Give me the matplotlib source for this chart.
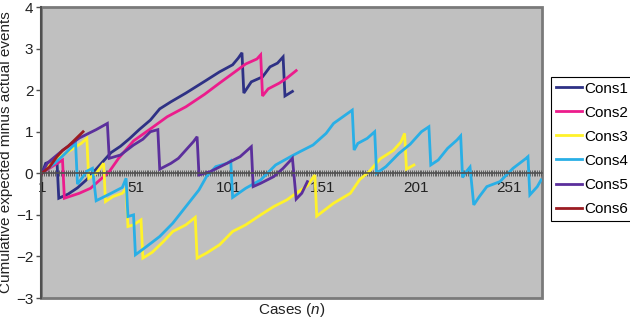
import matplotlib
matplotlib.use("Agg")
import matplotlib.pyplot as plt

plt.rcParams["font.family"] = ["Liberation Sans", "DejaVu Sans"]
plt.rcParams["mathtext.fontset"] = "custom"
plt.rcParams["mathtext.rm"] = "Liberation Sans"
plt.rcParams["mathtext.it"] = "Liberation Sans:italic"

# cumulative expected minus actual events at the turning points
cons1_case = [1, 3, 9, 10, 15, 20, 25, 32, 38, 43, 48, 53, 59, 64, 70, 78, 89, 96, 103, 106, 108, 109,
              113, 119, 123, 127, 130, 131, 135]
cons1_val = [0, 0.24, 0.33, -0.6, -0.5, -0.35, -0.15, 0.2, 0.5, 0.65, 0.84, 1.05, 1.28, 1.55, 1.72, 1.93,
             2.24, 2.44, 2.61, 2.77, 2.9, 1.93, 2.2, 2.32, 2.56, 2.65, 2.8, 1.86, 1.97]

cons2_case = [1, 6, 12, 13, 21, 27, 32, 37, 42, 50, 60, 68, 78, 88, 96, 103, 110, 116, 118, 119,
              122, 128, 132, 137]
cons2_val = [0, 0.15, 0.32, -0.6, -0.48, -0.36, -0.16, 0.04, 0.36, 0.78, 1.1, 1.36, 1.6, 1.9, 2.17,
             2.4, 2.63, 2.75, 2.85, 1.86, 2.03, 2.17, 2.29, 2.47]

cons3_case = [1, 8, 15, 22, 25, 26, 30, 34, 35, 39, 44, 46, 47, 50, 54, 55, 60, 66, 71, 78, 83, 84,
              89, 96, 103, 110, 118, 125, 132, 137, 143, 147, 148, 157, 166, 171, 176, 182, 189, 193,
              195, 196, 200]
cons3_val = [0, 0.32, 0.52, 0.72, 0.84, -0.12, 0.0, 0.24, -0.68, -0.56, -0.48, -0.36, -1.28, -1.24,
             -1.12, -2.04, -1.9, -1.64, -1.4, -1.24, -1.06, -2.04, -1.92, -1.72, -1.4, -1.24, -1.0,
             -0.8, -0.64, -0.48, -0.3, -0.04, -1.03, -0.72, -0.48, -0.15, 0.04, 0.35, 0.55, 0.75,
             0.96, 0.1, 0.2]

cons4_case = [1, 8, 14, 19, 20, 23, 25, 28, 30, 38, 44, 46, 47, 50, 51, 57, 64, 71, 78, 85, 89, 94,
              100, 102, 103, 110, 118, 126, 134, 139, 146, 153, 157, 162, 167, 168, 170, 175, 179,
              180, 185, 192, 198, 204, 208, 209, 213, 218, 223, 225, 226, 228, 230, 232, 235, 239,
              246, 253, 260, 261, 262, 266, 268]
cons4_val = [0, 0.25, 0.5, 0.72, -0.26, -0.08, 0.05, 0.12, -0.66, -0.48, -0.34, -0.12, -1.04, -1.0,
             -1.96, -1.76, -1.52, -1.2, -0.8, -0.4, -0.08, 0.16, 0.24, 0.3, -0.58, -0.36, -0.16,
             0.2, 0.4, 0.52, 0.68, 0.96, 1.2, 1.36, 1.52, 0.56, 0.72, 0.84, 1.0, 0.0, 0.16, 0.48,
             0.7, 1.0, 1.12, 0.2, 0.32, 0.6, 0.8, 0.9, -0.1, 0.04, 0.15, -0.76, -0.56, -0.32, -0.2,
             0.12, 0.36, 0.4, -0.52, -0.32, -0.16]

cons5_case = [1, 4, 12, 21, 30, 36, 37, 43, 50, 55, 59, 63, 64, 70, 74, 78, 82, 84, 85, 91, 100,
              107, 113, 114, 118, 125, 130, 135, 137, 140, 143]
cons5_val = [0, 0.25, 0.55, 0.85, 1.05, 1.2, 0.36, 0.44, 0.68, 0.82, 1.0, 1.05, 0.1, 0.24, 0.36,
             0.56, 0.76, 0.88, -0.04, 0.04, 0.24, 0.4, 0.64, -0.32, -0.24, -0.08, 0.12, 0.36,
             -0.62, -0.48, -0.2]

cons6_case = [1, 5, 9, 12, 15, 18, 23]
cons6_val = [0, 0.15, 0.4, 0.55, 0.65, 0.78, 1.0]

series = [
    ("Cons1", cons1_case, cons1_val, "#2e3185"),
    ("Cons2", cons2_case, cons2_val, "#ec1c8c"),
    ("Cons3", cons3_case, cons3_val, "#fff22a"),
    ("Cons4", cons4_case, cons4_val, "#29afe6"),
    ("Cons5", cons5_case, cons5_val, "#5b2f9c"),
    ("Cons6", cons6_case, cons6_val, "#9c1c22"),
]

x_labels = [1, 51, 101, 151, 201, 251]
y_ticks = [-3, -2, -1, 0, 1, 2, 3, 4]

fig = plt.figure(figsize=(6.3, 3.19), dpi=100)
ax = fig.add_axes([0.0651, 0.0658, 0.7952, 0.9122])
ax.set_facecolor("#c0c0c0")
ax.patch.set_edgecolor("#7a7a7a")
ax.patch.set_linewidth(2.0)

for name, xs, ys, col in series:
    ax.plot(xs, ys, color=col, lw=2.0, label=name, solid_joinstyle="miter")

ax.set_xlim(0.5, 268.5)
ax.set_ylim(-3, 4)

# category axis crosses at zero, with a tick at every case
ax.spines["bottom"].set_position(("data", 0))
ax.spines["bottom"].set_color("#505050")
ax.spines["bottom"].set_linewidth(1.2)
ax.spines["left"].set_color("#505050")
ax.spines["left"].set_linewidth(1.5)
ax.spines["top"].set_visible(False)
ax.spines["right"].set_visible(False)

ax.set_xticks(x_labels)
ax.set_xticklabels([str(v) for v in x_labels])
ax.set_xticks(range(1, 269), minor=True)
ax.tick_params(axis="x", which="both", direction="inout", length=5, width=0.6,
               color="#505050", labelsize=11, pad=3, labelcolor="#222222")

ax.set_yticks(y_ticks)
ax.set_yticklabels([str(v).replace("-", "\u2212") for v in y_ticks])
ax.tick_params(axis="y", direction="out", length=3.5, width=1, color="#505050",
               labelsize=11, pad=2, labelcolor="#222222")

ax.set_xlabel("Cases ($n$)", fontsize=11, color="#222222")
ax.xaxis.set_label_coords(0.5, -0.01)
ax.set_ylabel("Cumulative expected minus actual events", fontsize=11, color="#222222")
ax.yaxis.set_label_coords(-0.055, 0.5)

ax.legend(loc="upper left", bbox_to_anchor=(0.8746, 0.7586), bbox_transform=fig.transFigure,
          fontsize=11, frameon=True, fancybox=False, edgecolor="black", framealpha=1,
          borderaxespad=0, borderpad=0.3, handlelength=1.7, handletextpad=0.15,
          labelspacing=0.66)
ax.get_legend().get_frame().set_linewidth(0.8)

fig.savefig("out.png", dpi=100)
